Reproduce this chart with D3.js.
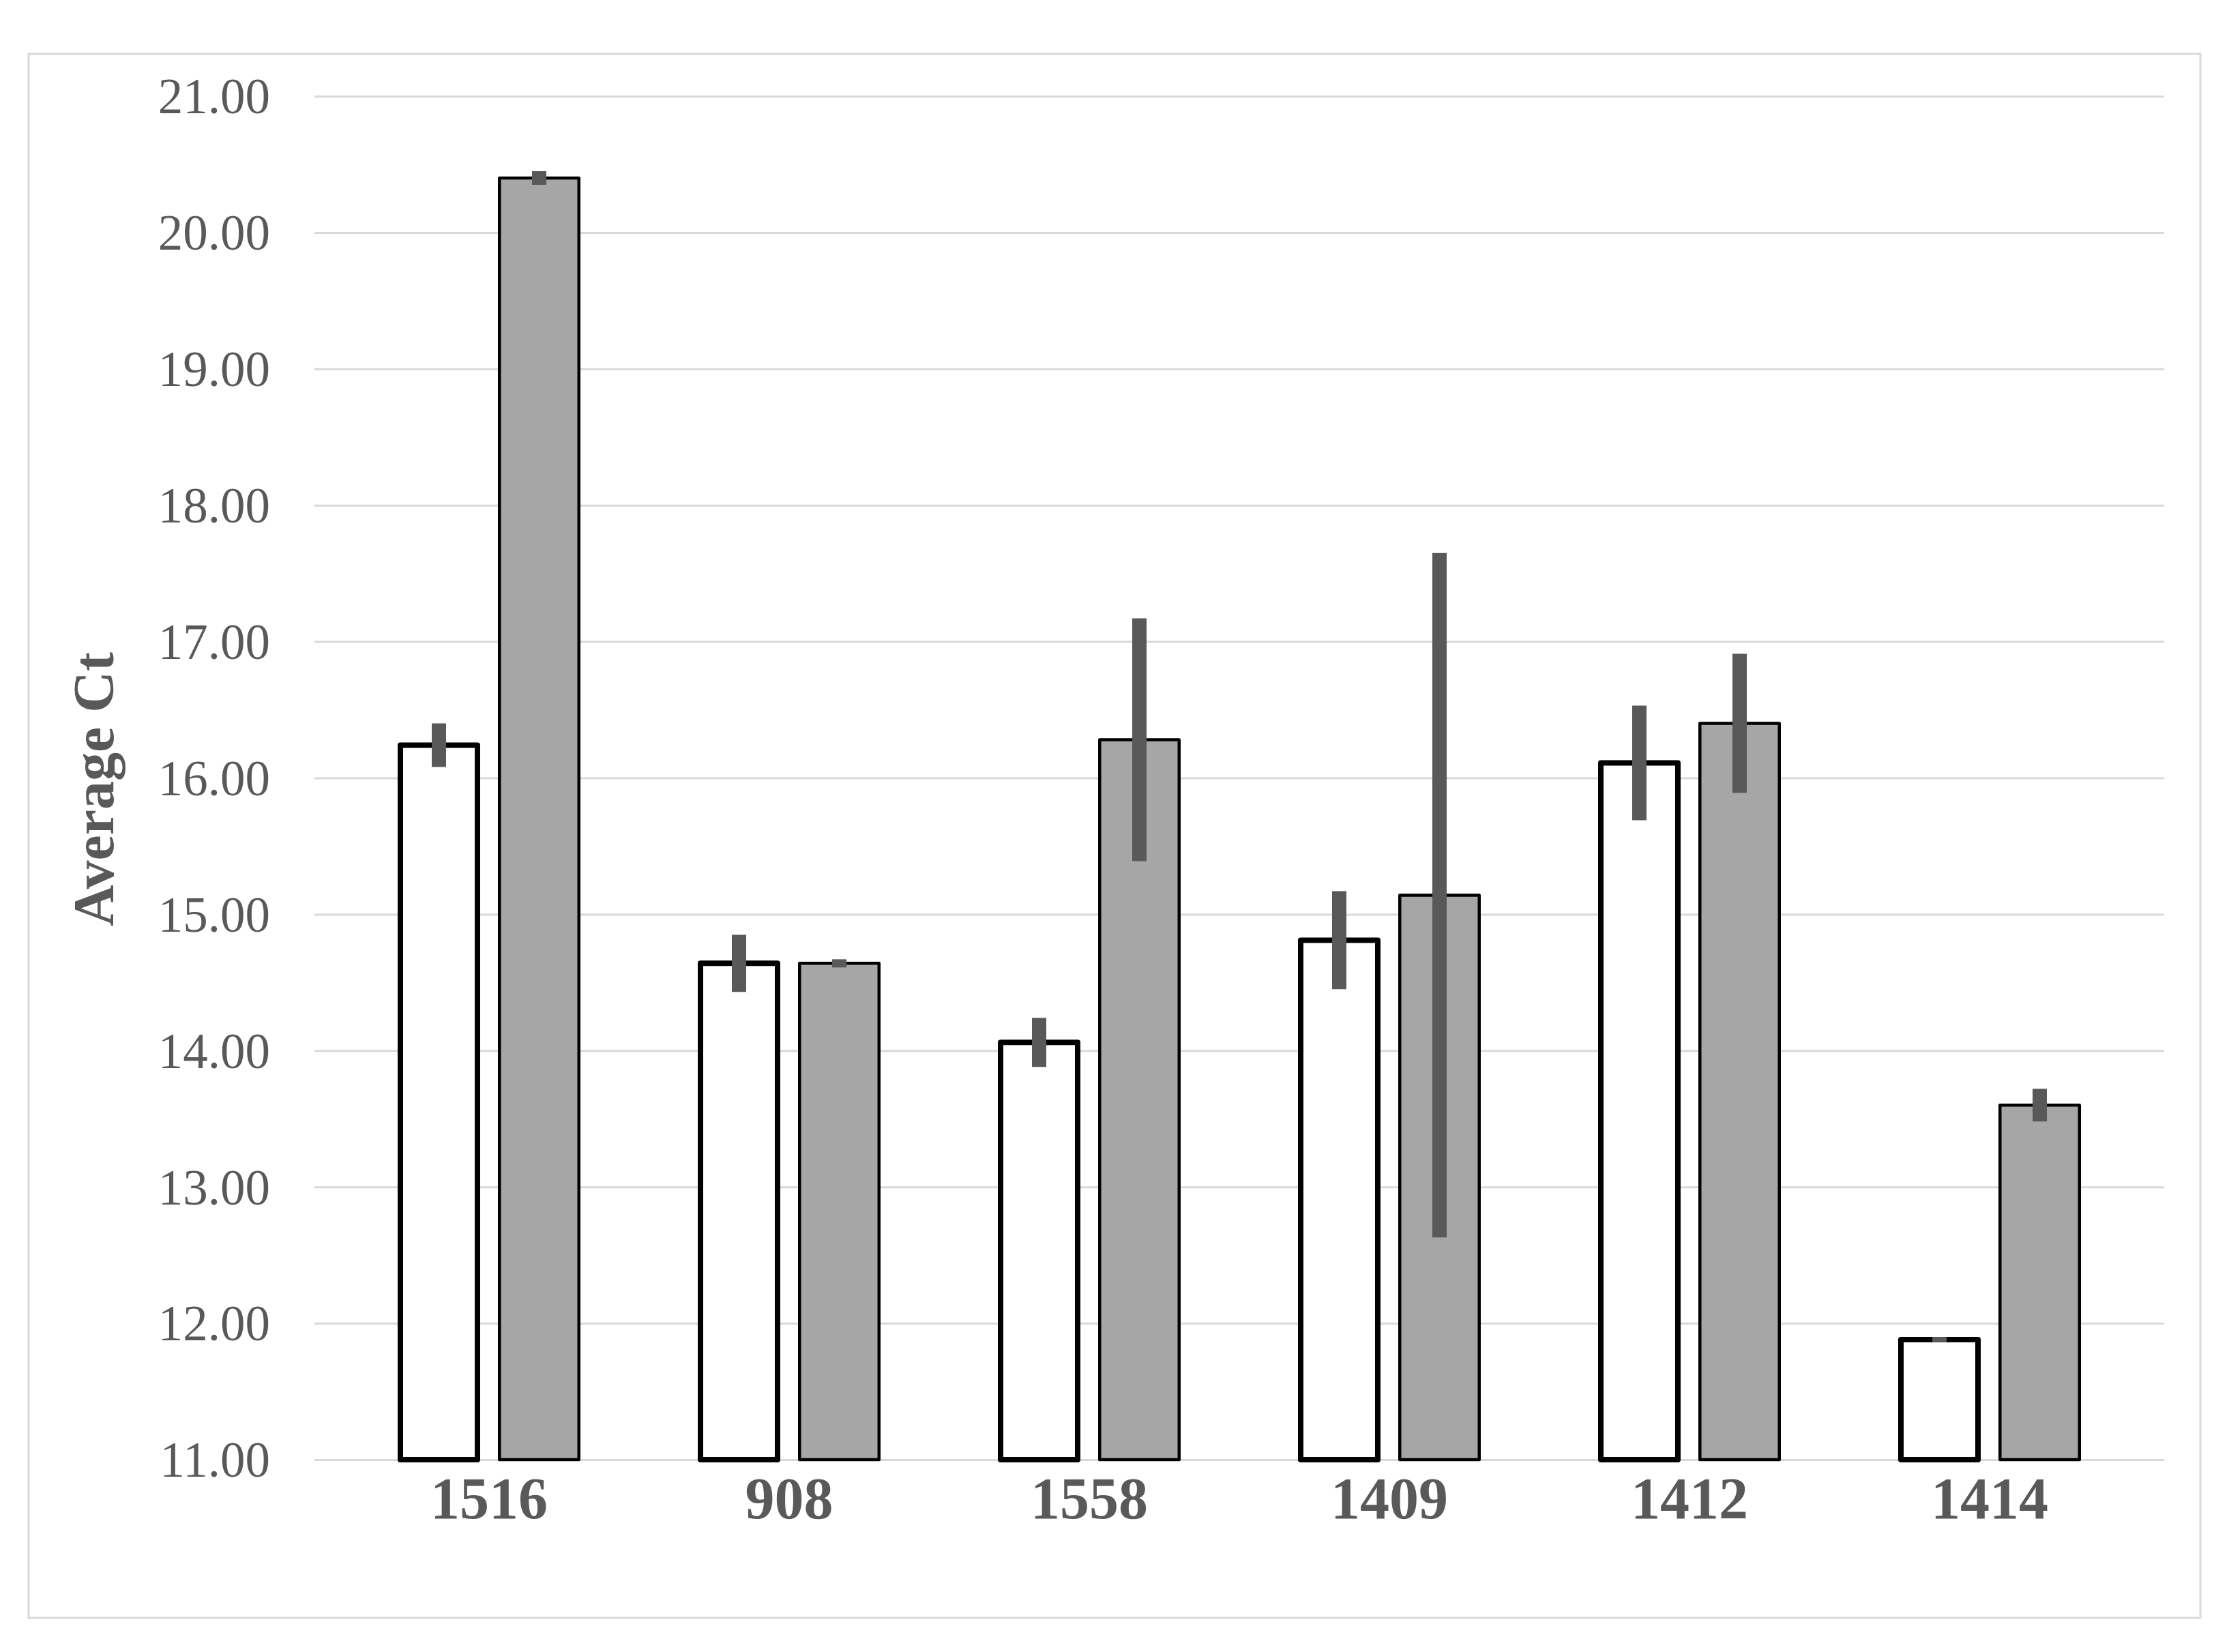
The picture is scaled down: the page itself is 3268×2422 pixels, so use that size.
<!DOCTYPE html>
<html>
<head>
<meta charset="utf-8">
<script src="https://cdn.jsdelivr.net/npm/d3@7"></script>
<style>
  html, body { margin: 0; padding: 0; background: #ffffff; }
  svg { display: block; }
</style>
</head>
<body>
<svg id="chart" width="3268" height="2422"></svg>
<script>
// ---- data ----
const categories = ["1516", "908", "1558", "1409", "1412", "1414"];
const seriesNames = ["white", "gray"];
const whiteValues = [16.24, 14.64, 14.06, 14.81, 16.11, 11.88];
const whiteErrors = [0.16, 0.21, 0.18, 0.36, 0.42, 0.02];
const grayValues  = [20.40, 14.64, 16.28, 15.14, 16.40, 13.60];
const grayErrors  = [0.05, 0.03, 0.89, 2.51, 0.51, 0.12];
const yTicks = [11, 12, 13, 14, 15, 16, 17, 18, 19, 20, 21];
const yTitle = "Average Ct";

// ---- layout ----
const svg = d3.select("#chart");

svg.append("rect")
  .attr("x", 42).attr("y", 79).attr("width", 3226 - 42).attr("height", 2372 - 79)
  .attr("fill", "#ffffff").attr("stroke", "#d9d9d9").attr("stroke-width", 3);

const gridLeft = 461, gridRight = 3173;
const y = d3.scaleLinear().domain([11, 21]).range([2140, 141]);
const x = d3.scaleBand().domain(categories).range([497, 3137]).paddingInner(0).paddingOuter(0);
const xSub = d3.scaleBand().domain(seriesNames).range([86, 354]).paddingInner(0.177).paddingOuter(0);

// y axis with gridlines
const yAxis = d3.axisLeft(y)
  .tickValues(yTicks)
  .tickFormat(d3.format(".2f"))
  .tickSize(-(gridRight - gridLeft))
  .tickPadding(65);
const gy = svg.append("g").attr("transform", `translate(${gridLeft},0)`).call(yAxis);
gy.select(".domain").remove();
gy.selectAll(".tick line").attr("stroke", "#d9d9d9").attr("stroke-width", 3);
gy.selectAll(".tick text")
  .attr("fill", "#595959")
  .attr("font-family", "'Liberation Serif', 'Times New Roman', serif")
  .attr("font-size", 73)
  .attr("dy", "0.34em");

// x axis labels
const xAxis = d3.axisBottom(x).tickSize(0).tickPadding(0);
const gx = svg.append("g").attr("transform", `translate(0,2140)`).call(xAxis);
gx.select(".domain").remove();
gx.selectAll(".tick text")
  .attr("fill", "#595959")
  .attr("font-family", "'Liberation Serif', 'Times New Roman', serif")
  .attr("font-weight", "bold")
  .attr("font-size", 86)
  .attr("dy", 0)
  .attr("y", 86);

// bars
const rows = categories.map((c, i) => ({
  cat: c,
  bars: [
    { s: "white", v: whiteValues[i], e: whiteErrors[i] },
    { s: "gray",  v: grayValues[i],  e: grayErrors[i] }
  ]
}));
const style = {
  white: { fill: "#ffffff", sw: 8 },
  gray:  { fill: "#a6a6a6", sw: 4.5 }
};

const groups = svg.append("g").selectAll("g.cat").data(rows).join("g")
  .attr("class", "cat")
  .attr("transform", d => `translate(${x(d.cat)},0)`);

groups.selectAll("rect.bar").data(d => d.bars).join("rect")
  .attr("class", "bar")
  .attr("x", d => xSub(d.s) + style[d.s].sw / 2)
  .attr("width", d => xSub.bandwidth() - style[d.s].sw)
  .attr("y", d => y(d.v))
  .attr("height", d => y(11) - y(d.v))
  .attr("fill", d => style[d.s].fill)
  .attr("stroke", "#000000")
  .attr("stroke-width", d => style[d.s].sw)
  .attr("stroke-linejoin", "round");

// error bars
groups.selectAll("line.err").data(d => d.bars).join("line")
  .attr("class", "err")
  .attr("x1", d => xSub(d.s) + xSub.bandwidth() / 2)
  .attr("x2", d => xSub(d.s) + xSub.bandwidth() / 2)
  .attr("y1", d => y(d.v + d.e))
  .attr("y2", d => y(d.v - d.e))
  .attr("stroke", "#595959")
  .attr("stroke-width", 21);

// y title
svg.append("text")
  .attr("transform", "translate(166,1157) rotate(-90)")
  .attr("text-anchor", "middle")
  .attr("fill", "#595959")
  .attr("font-family", "'Liberation Serif', 'Times New Roman', serif")
  .attr("font-weight", "bold")
  .attr("font-size", 84)
  .text(yTitle);
</script>
</body>
</html>
